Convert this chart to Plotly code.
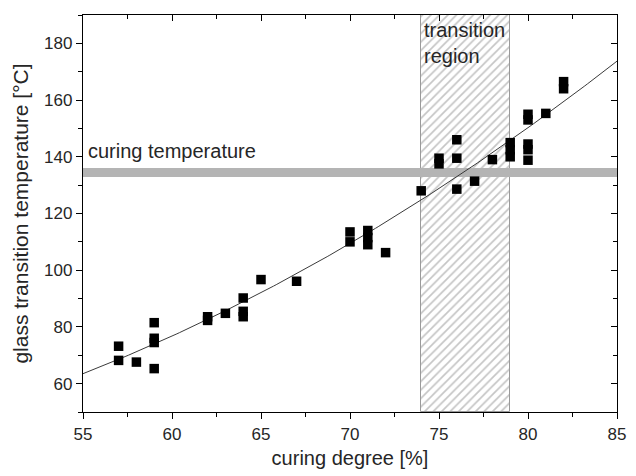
import numpy as np
import plotly.graph_objects as go

# Measured samples: curing degree [%] and glass transition temperature [°C]
curing_degree = [57, 57, 58, 59, 59, 59, 59, 62, 62, 63, 64, 64, 64, 65, 67,
                 70, 70, 71, 71, 71, 72, 74, 75, 75, 76, 76, 76, 77, 78,
                 79, 79, 79, 80, 80, 80, 80, 80, 81, 82, 82]
glass_temp = [73.2, 68.2, 67.6, 81.5, 76.0, 74.5, 65.3, 83.6, 82.3, 84.8, 90.2, 85.5, 83.6, 96.7, 96.1,
              113.5, 110.0, 114.0, 111.5, 109.0, 106.2, 128.0, 139.5, 137.5, 146.0, 139.5, 128.6, 131.4, 139.0,
              145.0, 142.5, 140.0, 155.0, 153.0, 144.5, 142.5, 138.8, 155.3, 166.5, 164.0]

curing_temperature = 134.5        # °C, horizontal band
transition_region = [74, 79]      # curing degree range, hatched
x_range = [55, 85]
y_range = [50, 190]

# Quadratic regression through the measurements
coef = np.polyfit(curing_degree, glass_temp, 2)
x_fit = np.linspace(x_range[0], x_range[1], 200)
y_fit = np.polyval(coef, x_fit)

FONT = "Liberation Sans, Arial, sans-serif"
TXT = "#262626"

fig = go.Figure()

# hatched transition region
fig.add_trace(go.Bar(
    x=[(transition_region[0] + transition_region[1]) / 2],
    y=[y_range[1] - y_range[0]],
    base=[y_range[0]],
    width=[transition_region[1] - transition_region[0]],
    marker=dict(color="white",
                line=dict(color="#9a9a9a", width=1),
                pattern=dict(shape="/", fgcolor="#8c8c8c", bgcolor="white",
                             size=6, solidity=0.28)),
    hoverinfo="skip", showlegend=False,
))

# curing temperature band
fig.add_trace(go.Scatter(
    x=x_range, y=[curing_temperature, curing_temperature], mode="lines",
    line=dict(color="#b4b4b4", width=9), hoverinfo="skip", showlegend=False,
))

# regression curve and measurements on the overlay axes (mirrored inside ticks)
fig.add_trace(go.Scatter(
    x=x_fit, y=y_fit, mode="lines", xaxis="x2", yaxis="y2",
    line=dict(color="#3a3a3a", width=1), showlegend=False,
))
fig.add_trace(go.Scatter(
    x=curing_degree, y=glass_temp, mode="markers", xaxis="x2", yaxis="y2",
    marker=dict(symbol="square", size=9.5, color="black", line=dict(width=0)),
    showlegend=False,
))

axis_common = dict(showgrid=False, zeroline=False, showline=True,
                   linecolor="black", linewidth=1.3,
                   tickcolor="black", tickwidth=1.2, ticklen=6,
                   tickfont=dict(family=FONT, size=17, color=TXT))
minor_out = dict(ticks="outside", ticklen=3.5, tickcolor="black", tickwidth=1.2)
minor_in = dict(ticks="inside", ticklen=3.5, tickcolor="black", tickwidth=1.2)

fig.update_layout(
    width=636, height=476,
    margin=dict(l=83, r=10, t=15, b=62),
    paper_bgcolor="white", plot_bgcolor="white",
    bargap=0,
    xaxis=dict(range=x_range, tick0=55, dtick=5, ticks="outside",
               minor=dict(dtick=2.5, **minor_out),
               title=dict(text="curing degree [%]", font=dict(family=FONT, size=20, color=TXT), standoff=8),
               **axis_common),
    yaxis=dict(range=y_range, tick0=60, dtick=20, ticks="outside",
               minor=dict(dtick=10, **minor_out),
               title=dict(text="glass transition temperature [°C]", font=dict(family=FONT, size=21, color=TXT), standoff=9),
               **axis_common),
    xaxis2=dict(range=x_range, tick0=55, dtick=5, ticks="inside", overlaying="x", side="top",
                anchor="y2", showticklabels=False,
                minor=dict(dtick=2.5, **minor_in), **axis_common),
    yaxis2=dict(range=y_range, tick0=60, dtick=20, ticks="inside", overlaying="y", side="right",
                anchor="x2", showticklabels=False,
                minor=dict(dtick=10, **minor_in), **axis_common),
    annotations=[
        dict(x=x_range[0], y=curing_temperature + 7.5, xref="x", yref="y",
             text="curing temperature", showarrow=False, xanchor="left", yanchor="middle",
             xshift=3, font=dict(family=FONT, size=20, color=TXT)),
        dict(x=transition_region[0], y=y_range[1], xref="x", yref="y",
             text="transition<br>region", showarrow=False, xanchor="left", yanchor="top",
             align="left", xshift=1, yshift=-2, font=dict(family=FONT, size=20, color=TXT)),
    ],
)

fig.write_html("out.html")
